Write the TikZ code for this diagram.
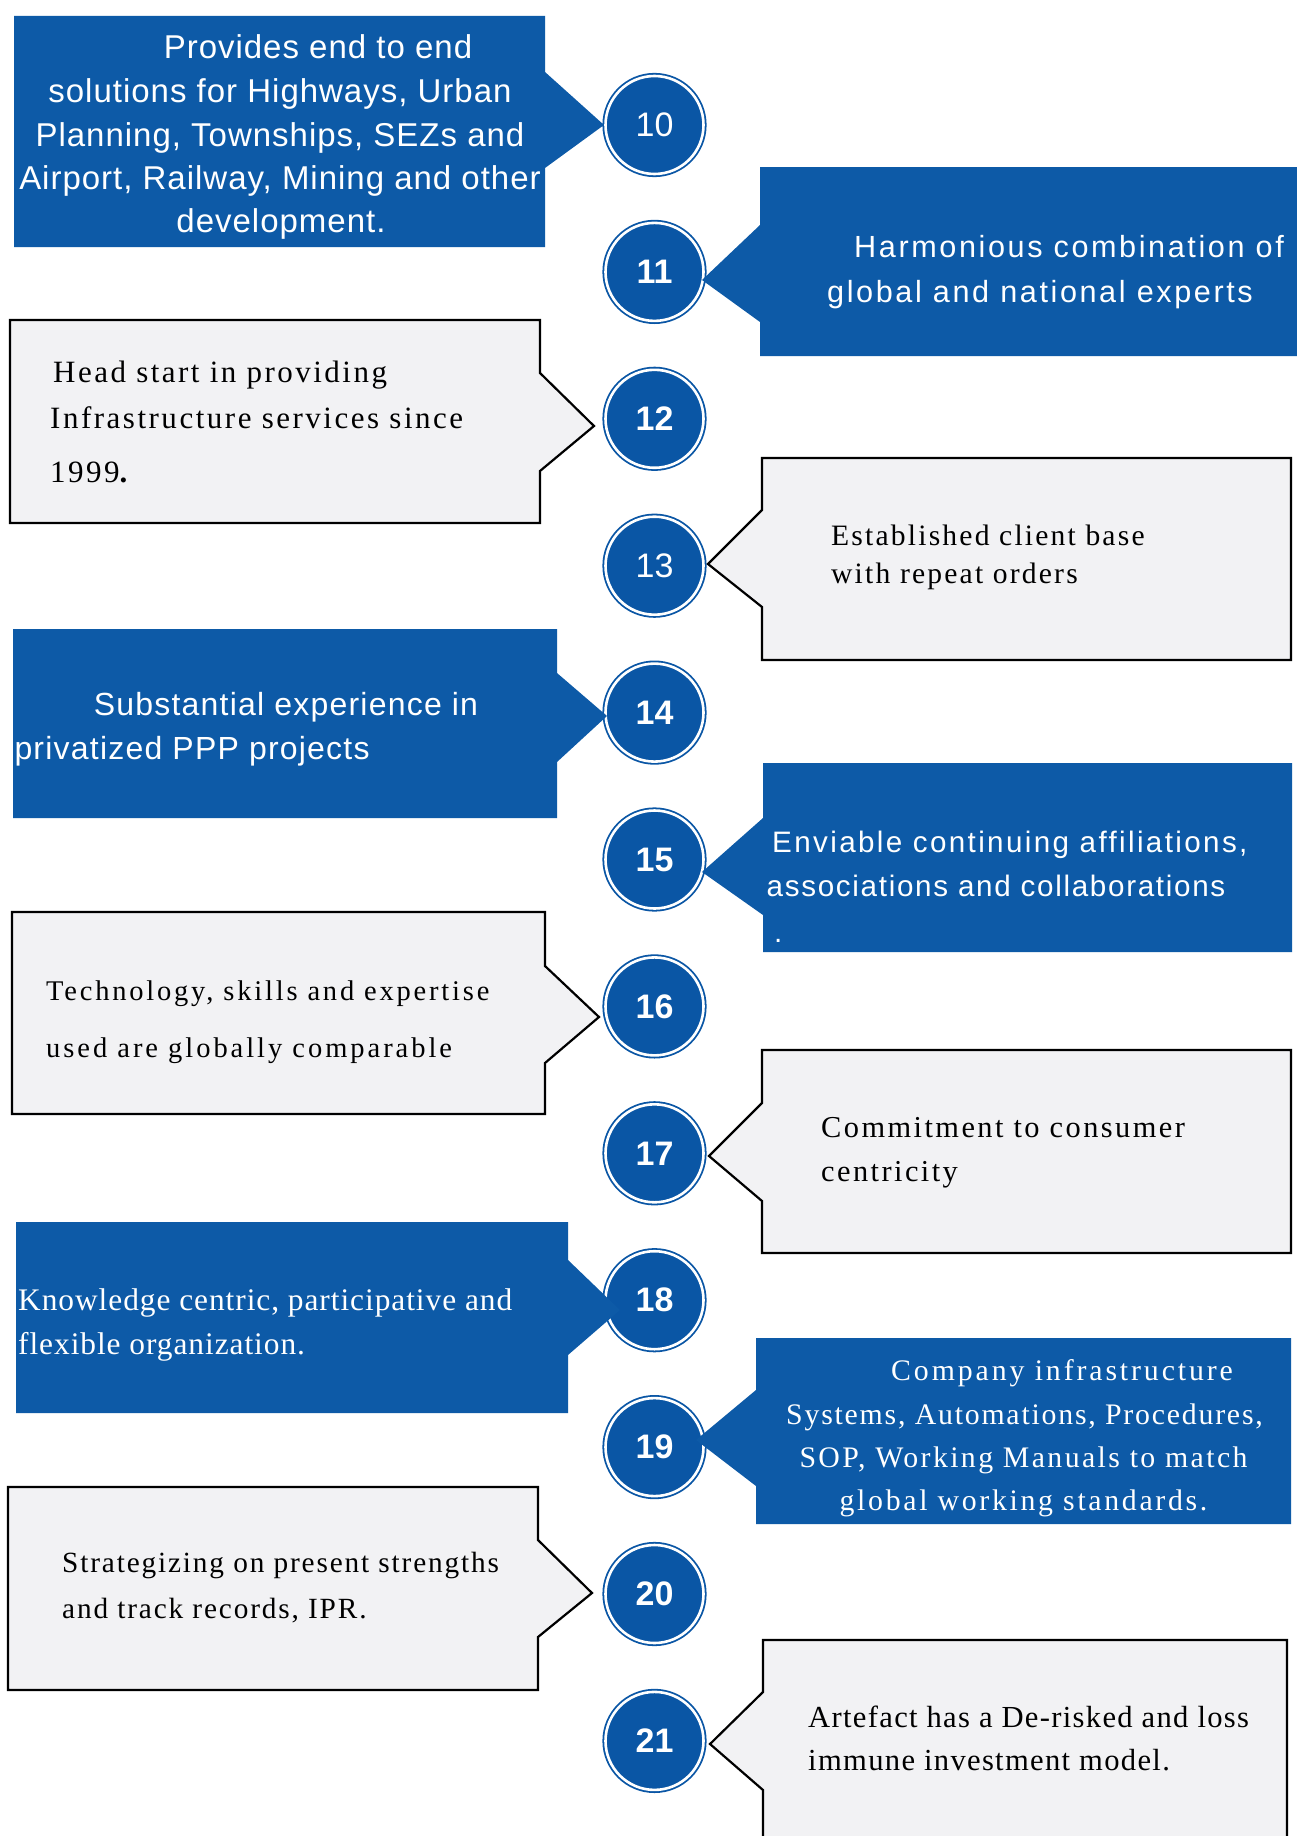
\documentclass[tikz,border=0pt]{standalone}
\usepackage{fontspec}
\newfontfamily\ArlF{Liberation Sans}
\newfontfamily\TmsF{Liberation Serif}
\usetikzlibrary{backgrounds}
\definecolor{boxblue}{HTML}{0D5AA7}
\definecolor{dotblue}{HTML}{0A56A5}
\definecolor{boxgray}{HTML}{F2F2F4}
\newcommand{\AF}[2]{\ArlF\fontsize{#1}{#1}\selectfont\addfontfeature{LetterSpace=#2}}
\newcommand{\TF}[2]{\TmsF\fontsize{#1}{#1}\selectfont\addfontfeature{LetterSpace=#2}}
\begin{document}
\begin{tikzpicture}[x=1pt,y=-1pt,
  bluebox/.style={fill=boxblue},
  graybox/.style={fill=boxgray,draw=black,line width=2.2pt,line join=miter},
  num/.style={circle,fill=dotblue,draw=dotblue,double=white,double distance=2.6pt,
    line width=1.8pt,minimum size=98pt,inner sep=0pt,text=white},
  numb/.style={num,font=\ArlF\bfseries\fontsize{34}{34}\selectfont},
  numr/.style={num,font=\ArlF\fontsize{34}{34}\selectfont},
  wtxt/.style={text=white,inner sep=0pt},
  ktxt/.style={text=black,inner sep=0pt},
]
\clip (0,0) rectangle (1297,1836);
\fill[white] (0,0) rectangle (1297,1836);

% numbered circles
\node[numr] (c10) at (654.5,125.0) {10};
\node[numb] (c11) at (654.5,271.9) {11};
\node[numb] (c12) at (654.5,418.8) {12};
\node[numr] (c13) at (654.5,565.7) {13};
\node[numb] (c14) at (654.5,712.6) {14};
\node[numb] (c15) at (654.5,859.5) {15};
\node[numb] (c16) at (654.5,1006.4) {16};
\node[numb] (c17) at (654.5,1153.3) {17};
\node[numb] (c18) at (654.5,1300.2) {18};
\node[numb] (c19) at (654.5,1447.1) {19};
\node[numb] (c20) at (654.5,1594.0) {20};
\node[numb] (c21) at (654.5,1740.9) {21};

\begin{pgfonlayer}{background}
\coordinate (top) at (654.5,8);
\draw[line width=9pt,dotblue] (top) -- (c21.center);
\end{pgfonlayer}

% callout shapes (left side point right, right side point left)
\fill[bluebox] (14,16) -- (545,16) -- (545,72) -- (604,125) -- (545,168) -- (545,247) -- (14,247) -- cycle;
\fill[bluebox] (1300,167) -- (760,167) -- (760,225) -- (702,280) -- (760,322) -- (760,356) -- (1300,356) -- cycle;
\draw[graybox] (10,320) -- (540,320) -- (540,373) -- (594,426) -- (540,471) -- (540,523) -- (10,523) -- cycle;
\draw[graybox] (1291,458) -- (762,458) -- (762,510) -- (708,564) -- (762,607) -- (762,660) -- (1291,660) -- cycle;
\fill[bluebox] (13,629) -- (557,629) -- (557,673) -- (607,716) -- (557,762) -- (557,818) -- (13,818) -- cycle;
\fill[bluebox] (1292,763) -- (763,763) -- (763,818) -- (702,872) -- (763,915) -- (763,952) -- (1292,952) -- cycle;
\draw[graybox] (12,912) -- (545,912) -- (545,966) -- (599,1017) -- (545,1063) -- (545,1114) -- (12,1114) -- cycle;
\draw[graybox] (1291,1050) -- (762,1050) -- (762,1103) -- (709,1156) -- (762,1201) -- (762,1253) -- (1291,1253) -- cycle;
\fill[bluebox] (16,1222) -- (568,1222) -- (568,1260) -- (620,1310) -- (568,1355) -- (568,1413) -- (16,1413) -- cycle;
\fill[bluebox] (1291,1338) -- (756,1338) -- (756,1390) -- (696,1440) -- (756,1486) -- (756,1524) -- (1291,1524) -- cycle;
\draw[graybox] (8,1487) -- (538,1487) -- (538,1540) -- (592,1593) -- (538,1637) -- (538,1690) -- (8,1690) -- cycle;
\draw[graybox] (1287,1860) -- (1287,1640) -- (763,1640) -- (763,1692) -- (710,1744) -- (763,1790) -- (763,1860);

% texts
\node[wtxt,anchor=base,font=\AF{33}{3}] (t10a) at (318,59) {Provides end to end};
\node[wtxt,anchor=base,font=\AF{33}{3}] (t10b) at (280,102) {solutions for Highways, Urban};
\node[wtxt,anchor=base,font=\AF{33}{3}] (t10c) at (280,146) {Planning, Townships, SEZs and};
\node[wtxt,anchor=base,font=\AF{33}{3}] (t10d) at (280,189) {Airport, Railway, Mining and other};
\node[wtxt,anchor=base,font=\AF{33}{3}] (t10e) at (281,232) {development.};

\node[wtxt,anchor=base west,font=\AF{30.6}{8.5}] (t11a) at (854,257) {Harmonious combination of};
\node[wtxt,anchor=base west,font=\AF{30.6}{8.5}] (t11b) at (827,302) {global and national experts};

\node[ktxt,anchor=base west,font=\TF{31}{8}] (t12a) at (53,382) {Head start in providing};
\node[ktxt,anchor=base west,font=\TF{31}{8.1}] (t12b) at (50,428) {Infrastructure services since};
\node[ktxt,anchor=base west,font=\TF{31}{8}] (t12c) at (50,482) {1999\textbf{.}};

\node[ktxt,anchor=base west,font=\TF{29.6}{7.4}] (t13a) at (831,545) {Established client base};
\node[ktxt,anchor=base west,font=\TF{29.6}{7.4}] (t13b) at (831,583) {with repeat orders};

\node[wtxt,anchor=base west,font=\AF{32}{3.8}] (t14a) at (93.6,715) {Substantial experience in};
\node[wtxt,anchor=base west,font=\AF{32}{3.8}] (t14b) at (14.3,759) {privatized PPP projects};

\node[wtxt,anchor=base west,font=\AF{29.6}{8}] (t15a) at (772,852) {Enviable continuing affiliations,};
\node[wtxt,anchor=base west,font=\AF{29.6}{5.7}] (t15b) at (766.5,896) {associations and collaborations};
\node[wtxt,anchor=base west,font=\AF{29.6}{0}] (t15c) at (774,942) {.};

\node[ktxt,anchor=base west,font=\TF{28.5}{9.8}] (t16a) at (46,1000) {Technology, skills and expertise};
\node[ktxt,anchor=base west,font=\TF{28.5}{10.4}] (t16b) at (46,1057) {used are globally comparable};

\node[ktxt,anchor=base west,font=\TF{30.4}{8}] (t17a) at (821,1137) {Commitment to consumer};
\node[ktxt,anchor=base west,font=\TF{30.4}{8}] (t17b) at (821,1181) {centricity};

\node[wtxt,anchor=base west,font=\TF{31.4}{3}] (t18a) at (18,1310) {Knowledge centric, participative and};
\node[wtxt,anchor=base west,font=\TF{31.4}{3}] (t18b) at (18,1354) {flexible organization.};

\node[wtxt,anchor=base west,font=\TF{29.8}{9.7}] (t19a) at (891,1380) {Company infrastructure};
\node[wtxt,anchor=base,font=\TF{29.8}{6}] (t19b) at (1024.5,1424) {Systems, Automations, Procedures,};
\node[wtxt,anchor=base,font=\TF{29.8}{8}] (t19c) at (1023.5,1467.5) {SOP, Working Manuals to match};
\node[wtxt,anchor=base,font=\TF{29.8}{9}] (t19d) at (1023.5,1510) {global working standards.};

\node[ktxt,anchor=base west,font=\TF{29.3}{6.3}] (t20a) at (62,1572) {Strategizing on present strengths};
\node[ktxt,anchor=base west,font=\TF{29.3}{6.3}] (t20b) at (62,1618) {and track records, IPR.};

\node[ktxt,anchor=base west,font=\TF{30.6}{4.3}] (t21a) at (808,1727) {Artefact has a De-risked and loss};
\node[ktxt,anchor=base west,font=\TF{30.6}{4.3}] (t21b) at (808,1770) {immune investment model.};
\end{tikzpicture}
\end{document}
